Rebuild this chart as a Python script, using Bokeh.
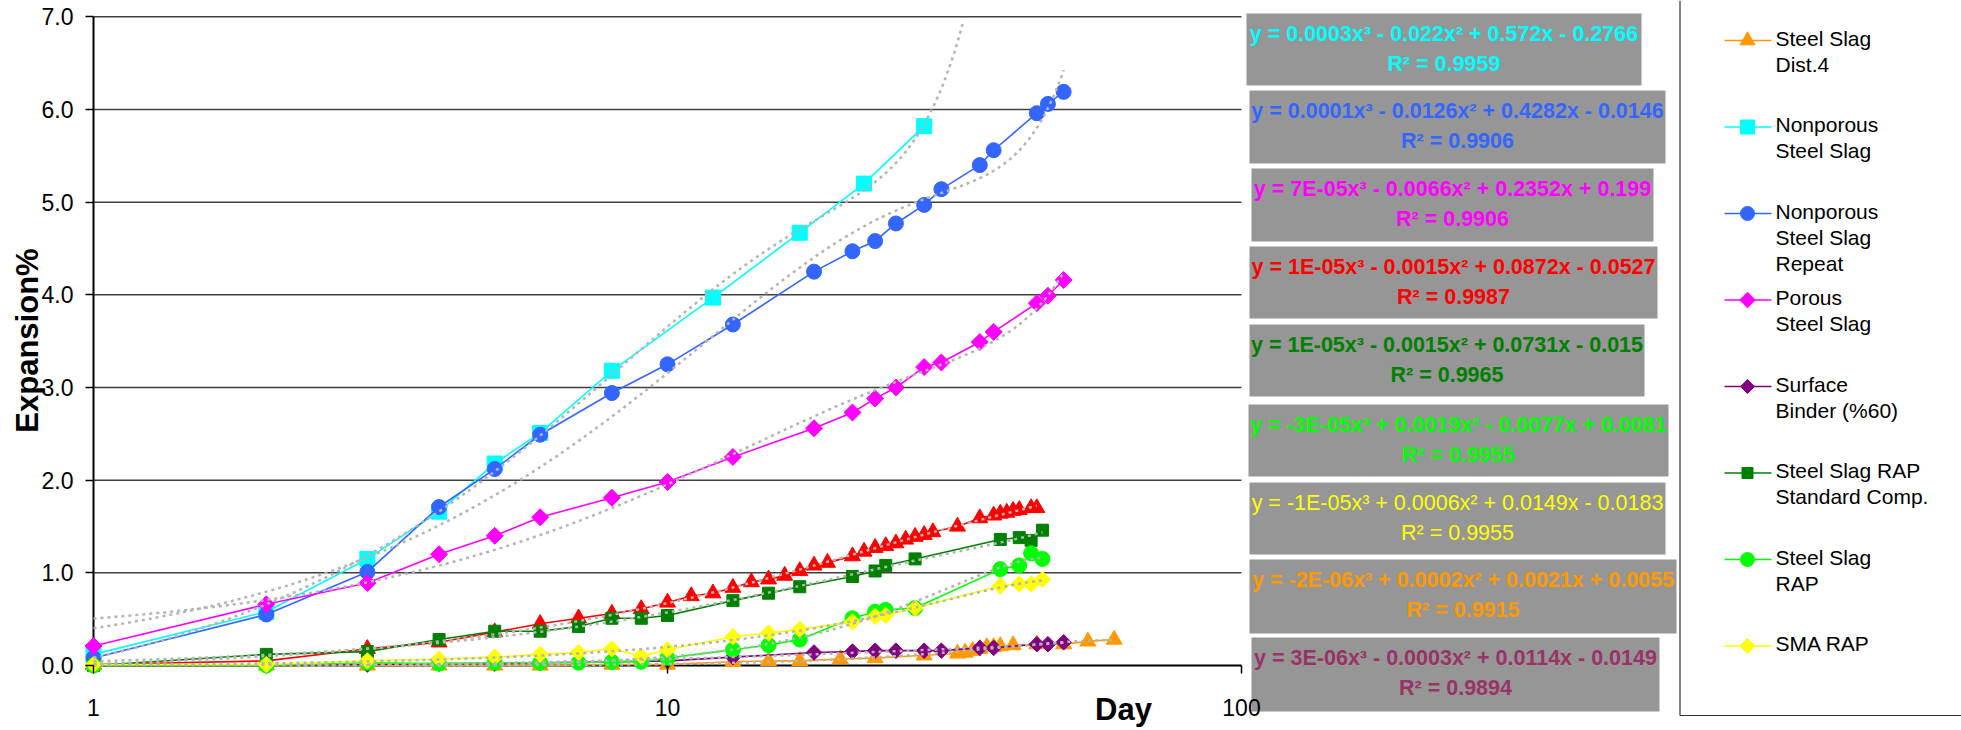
import numpy as np
from bokeh.plotting import figure
from bokeh.models import (Range1d, FixedTicker, PrintfTickFormatter, BasicTickFormatter,
                          LinearScale)
from bokeh.core.properties import value
from bokeh.embed import file_html
from bokeh.resources import INLINE

# ---------------- data ----------------
red_days = [1, 2, 3, 4, 5, 6, 7, 8, 9, 10, 11, 12, 13, 14, 15, 16, 17, 18, 19, 21, 22, 23, 24, 25,
            26, 27, 28, 29, 32, 35, 37, 38, 39, 40, 41, 43, 44]
red_exp = [0.01, 0.05, 0.18, 0.25, 0.36, 0.45, 0.51, 0.56, 0.61, 0.68, 0.75, 0.78, 0.84, 0.90, 0.93,
           0.97, 1.02, 1.08, 1.11, 1.18, 1.23, 1.27, 1.29, 1.32, 1.36, 1.39, 1.41, 1.44, 1.50, 1.59,
           1.62, 1.64, 1.65, 1.67, 1.68, 1.70, 1.70]

dist4_days = [1, 2, 3, 4, 5, 6, 8, 10, 13, 15, 17, 20, 23, 28, 32, 33, 34, 35, 36, 37, 38, 40, 44,
              49, 54, 60]
dist4_exp = [0.0, 0.0, 0.0, 0.0, 0.0, 0.0, 0.01, 0.01, 0.04, 0.05, 0.05, 0.07, 0.08, 0.11, 0.13,
             0.14, 0.16, 0.18, 0.20, 0.20, 0.21, 0.22, 0.23, 0.23, 0.26, 0.28]

nonporous_days = [1, 2, 3, 4, 5, 6, 8, 12, 17, 22, 28]
nonporous_exp = [0.12, 0.58, 1.15, 1.66, 2.18, 2.51, 3.18, 3.97, 4.67, 5.20, 5.82]

long_days = [1, 2, 3, 4, 5, 6, 8, 10, 13, 18, 21, 23, 25, 28, 30, 35, 37, 44, 46, 49]
repeat_exp = [0.08, 0.55, 1.01, 1.71, 2.12, 2.49, 2.94, 3.25, 3.68, 4.25, 4.47, 4.58, 4.77, 4.97,
              5.14, 5.40, 5.56, 5.96, 6.06, 6.19]
porous_exp = [0.21, 0.66, 0.89, 1.20, 1.40, 1.60, 1.81, 1.98, 2.25, 2.56, 2.73, 2.88, 3.00, 3.22,
              3.27, 3.49, 3.60, 3.91, 3.99, 4.16]
binder_exp = [0.0, 0.0, 0.01, 0.02, 0.02, 0.03, 0.04, 0.05, 0.09, 0.14, 0.15, 0.16, 0.16, 0.16,
              0.16, 0.19, 0.19, 0.23, 0.23, 0.25]

rap_days = [1, 2, 3, 4, 5, 6, 7, 8, 9, 10, 13, 15, 17, 21, 23, 24, 27, 38, 41, 43, 45]
rap_std_exp = [0.0, 0.12, 0.15, 0.28, 0.37, 0.37, 0.42, 0.51, 0.51, 0.54, 0.70, 0.78, 0.85, 0.96,
               1.02, 1.08, 1.15, 1.36, 1.38, 1.35, 1.46]
rap_exp = [0.0, 0.0, 0.03, 0.02, 0.03, 0.03, 0.03, 0.04, 0.04, 0.08, 0.17, 0.22, 0.28, 0.51, 0.58,
           0.60, 0.62, 1.04, 1.08, 1.21, 1.15]
sma_exp = [0.01, 0.01, 0.05, 0.07, 0.09, 0.12, 0.14, 0.18, 0.10, 0.17, 0.31, 0.35, 0.39, 0.47, 0.53,
           0.54, 0.62, 0.86, 0.88, 0.88, 0.93]

y_ticks = [0, 1, 2, 3, 4, 5, 6, 7]
x_ticks = [1, 10, 100]

equations = [
    ("y = 0.0003x³ - 0.022x² + 0.572x - 0.2766", "R² = 0.9959"),
    ("y = 0.0001x³ - 0.0126x² + 0.4282x - 0.0146", "R² = 0.9906"),
    ("y = 7E-05x³ - 0.0066x² + 0.2352x + 0.199", "R² = 0.9906"),
    ("y = 1E-05x³ - 0.0015x² + 0.0872x - 0.0527", "R² = 0.9987"),
    ("y = 1E-05x³ - 0.0015x² + 0.0731x - 0.015", "R² = 0.9965"),
    ("y = -3E-05x³ + 0.0019x² - 0.0077x + 0.0081", "R² = 0.9955"),
    ("y = -1E-05x³ + 0.0006x² + 0.0149x - 0.0183", "R² = 0.9955"),
    ("y = -2E-06x³ + 0.0002x² + 0.0021x + 0.0055", "R² = 0.9915"),
    ("y = 3E-06x³ - 0.0003x² + 0.0114x - 0.0149", "R² = 0.9894"),
]

legend_labels = [
    ["Steel Slag", "Dist.4"],
    ["Nonporous", "Steel Slag"],
    ["Nonporous", "Steel Slag", "Repeat"],
    ["Porous", "Steel Slag"],
    ["Surface", "Binder (%60)"],
    ["Steel Slag RAP", "Standard Comp."],
    ["Steel Slag", "RAP"],
    ["SMA RAP"],
]

# ---------------- styles ----------------
FONT = "Liberation Sans"
ORANGE, CYAN, BLUE, MAGENTA = "#FF9900", "#00FFFF", "#3366FF", "#FF00FF"
PURPLE, DGREEN, LIME, YELLOW, RED = "#800080", "#008000", "#00FF00", "#FFFF00", "#FF0000"
DIAMOND = np.pi / 4

# drawing order (last on top); (x, y, color, marker, size, angle, legend index, forecast)
series = [
    (red_days, red_exp, RED, "triangle", 16, 0, None, 1.0),
    (dist4_days, dist4_exp, ORANGE, "triangle", 16, 0, 0, 1.0),
    (nonporous_days, nonporous_exp, CYAN, "square", 15, 0, 1, 1.45),
    (long_days, repeat_exp, BLUE, "circle", 15, 0, 2, 1.0),
    (long_days, porous_exp, MAGENTA, "square", 12, DIAMOND, 3, 1.0),
    (long_days, binder_exp, PURPLE, "square", 11, DIAMOND, 4, 1.0),
    (rap_days, rap_std_exp, DGREEN, "square", 12, 0, 5, 1.0),
    (rap_days, rap_exp, LIME, "circle", 15, 0, 6, 1.0),
    (rap_days, sma_exp, YELLOW, "square", 11.5, DIAMOND, 7, 1.0),
]
eq_colors = [CYAN, BLUE, MAGENTA, RED, DGREEN, LIME, YELLOW, ORANGE, "#993366"]
eq_bold = [True, True, True, True, True, True, False, True, True]

# ---------------- page geometry (pixels) ----------------
W, H = 1961, 730
PLOT_L, DECADE = 93.0, 574.0          # x = 1 at PLOT_L, one decade = DECADE px
PLOT_TOP, PLOT_BOT = 16.3, 665.0      # y = 7 and y = 0
UNIT = (PLOT_BOT - PLOT_TOP) / 7.0

x_lo = 10 ** (-PLOT_L / DECADE)
x_hi = 10 ** ((W - PLOT_L) / DECADE)
y_lo = -(H - PLOT_BOT) / UNIT
y_hi = 7 + PLOT_TOP / UNIT

p = figure(width=W, height=H, x_axis_type="log",
           x_range=Range1d(x_lo, x_hi), y_range=Range1d(y_lo, y_hi),
           min_border=0, output_backend="svg", toolbar_location=None)
try:
    p.title_location = None
except Exception:
    p.title.visible = False
p.outline_line_color = None
p.background_fill_color = "white"
p.border_fill_color = "white"
p.xgrid.visible = False
p.ygrid.visible = False

# pixel coordinate system for the decorations (equation boxes, legend, captions)
p.extra_x_ranges = {"px": Range1d(0, W)}
p.extra_y_ranges = {"px": Range1d(H, 0)}
p.extra_x_scales = {"px": LinearScale()}
p.extra_y_scales = {"px": LinearScale()}
PX = dict(x_range_name="px", y_range_name="px")

# axes drawn at x = 1 and y = 0
p.xaxis.fixed_location = 0
p.yaxis.fixed_location = 1
p.xaxis.ticker = FixedTicker(ticks=x_ticks, minor_ticks=[])
p.xaxis.formatter = BasicTickFormatter(use_scientific=False)
p.yaxis.ticker = FixedTicker(ticks=y_ticks, minor_ticks=[])
p.yaxis.formatter = PrintfTickFormatter(format="%.1f")
for ax in (p.xaxis[0], p.yaxis[0]):
    ax.axis_line_color = None
    ax.major_tick_line_color = "black"
    ax.major_tick_line_width = 1.5
    ax.major_tick_out = 8
    ax.major_tick_in = 0
    ax.minor_tick_line_color = None
    ax.major_label_text_font = FONT
    ax.major_label_text_font_size = "23px"
    ax.major_label_text_color = "black"
p.yaxis.major_label_standoff = 12
p.xaxis.major_label_standoff = 25

# horizontal gridlines and axis lines across the plot area (x from 1 to 100)
grid_y = y_ticks[1:]
p.segment(x0=[x_ticks[0]] * len(grid_y), x1=[x_ticks[-1]] * len(grid_y), y0=grid_y, y1=grid_y,
          line_color="#404040", line_width=1.5)
p.segment(x0=[x_ticks[0], x_ticks[0]], y0=[y_ticks[0], y_ticks[0]],
          x1=[x_ticks[-1], x_ticks[0]], y1=[y_ticks[0], y_ticks[-1]],
          line_color="black", line_width=2)

for xs, ys, col, mk, sz, ang, li, fc in series:
    p.line(xs, ys, line_color=col, line_width=1.6)
    p.scatter(xs, ys, marker=mk, size=sz, angle=ang, fill_color=col, line_color=col)

# polynomial (3rd order) trendlines fitted to each series, kept inside the plot area
for xs, ys, col, mk, sz, ang, li, fc in series:
    xa = np.asarray(xs, dtype=float)
    coef = np.polyfit(xa, np.asarray(ys, dtype=float), 3)
    xt = np.geomspace(xa.min(), xa.max() * fc, 400)
    yt = np.polyval(coef, xt)
    yt[(yt < y_ticks[0]) | (yt > y_ticks[-1])] = np.nan
    p.line(xt, yt, line_color="#B4B4B4", line_width=2.5, line_dash="3 4")

# axis captions
p.text(x=[27], y=[340], text=["Expansion%"], angle=np.pi / 2, text_align="center",
       text_baseline="middle", text_font=value(FONT), text_font_size="31px",
       text_font_style="bold", text_color="black", **PX)
p.text(x=[1123], y=[709], text=["Day"], text_align="center", text_baseline="middle",
       text_font=value(FONT), text_font_size="31px", text_font_style="bold",
       text_color="black", **PX)

# ---------------- equation boxes ----------------
box_l = [1246, 1249, 1251, 1249, 1249, 1248, 1249, 1249, 1251]
box_r = [1641, 1665, 1653, 1657, 1644, 1668, 1665, 1676, 1659]
box_t = [13, 90, 168, 246, 324, 404, 482, 559, 637]
box_b = [85, 163, 241, 318, 396, 476, 554, 633, 711]
p.quad(left=box_l, right=box_r, top=box_t, bottom=box_b, fill_color="#969696", line_color=None,
       **PX)
for i, (l1, l2) in enumerate(equations):
    cx = (box_l[i] + box_r[i]) / 2
    p.text(x=[cx, cx], y=[box_t[i] + 20.5, box_t[i] + 50.5], text=[l1, l2],
           text_align="center", text_baseline="middle", text_font=value(FONT),
           text_font_size="21.5px", text_font_style="bold" if eq_bold[i] else "normal",
           text_color=eq_colors[i], **PX)

# ---------------- legend ----------------
LG_L = 1679.5
p.segment(x0=[LG_L, LG_L], y0=[0, 715], x1=[LG_L, W], y1=[715, 715],
          line_color="#333333", line_width=1.2, **PX)
for xs, ys, col, mk, sz, ang, li, fc in series:
    if li is None:
        continue
    my = 40 + li * 86.5
    p.segment(x0=[1724], y0=[my], x1=[1771], y1=[my], line_color=col, line_width=1.6, **PX)
    p.scatter([1747], [my], marker=mk, size=sz - 1, angle=ang, fill_color=col, line_color=col,
              **PX)
    lines = legend_labels[li]
    p.text(x=[1775] * len(lines), y=[my - 2.5 + k * 26.3 for k in range(len(lines))],
           text=lines, text_align="left", text_baseline="middle", text_font=value(FONT),
           text_font_size="21px", text_color="black", **PX)

open("out.html", "w").write(file_html(p, INLINE))
